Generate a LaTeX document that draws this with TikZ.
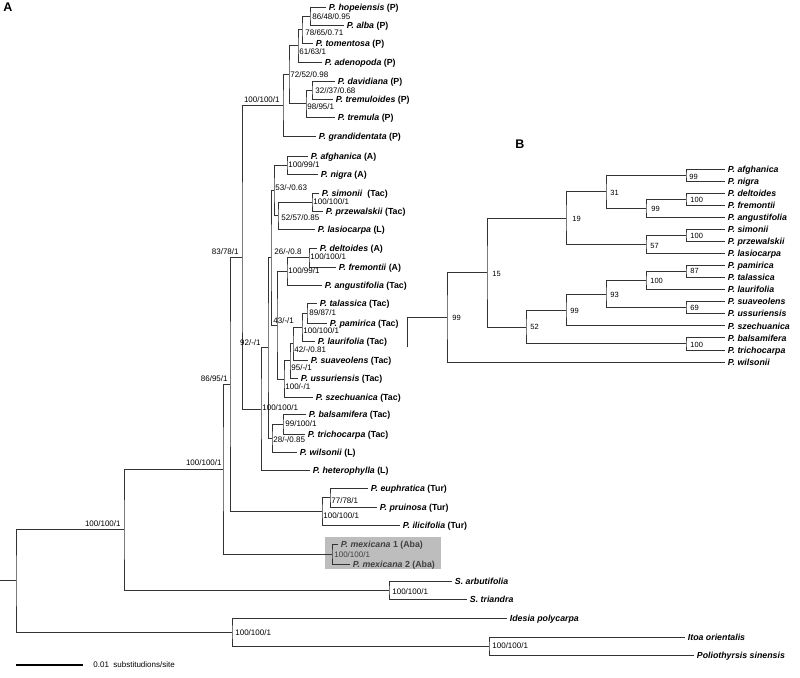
\documentclass[tikz,border=0pt]{standalone}
\usepackage{fontspec}
\setmainfont{Liberation Sans}
\usepackage{tikz}

\begin{document}
\begin{tikzpicture}[x=1pt, y=-1pt, line width=0.8pt,
  branch/.style={draw=black!80},
  taxon/.style={anchor=base west, inner xsep=2.5pt, inner ysep=0pt, yshift=-3.2pt, font=\fontsize{8.8}{10}\selectfont\bfseries},
  supp/.style={anchor=base west, inner sep=0pt, yshift=-2.9pt, font=\fontsize{8}{9}\selectfont},
  suppr/.style={supp, anchor=base east},
  bsupp/.style={anchor=base west, inner sep=0pt, yshift=-2.7pt, font=\fontsize{7.5}{9}\selectfont},
  panel/.style={anchor=base west, inner sep=0pt, font=\fontsize{12.5}{14}\selectfont\bfseries}]
\useasboundingbox (0, 0) rectangle (800, 677);

% panel A
\node[panel] (labA) at (3, 12) {A};
\fill [gray!52] (325, 537) rectangle (441, 569);

% tips of A
\coordinate (hop) at (326, 7);
\coordinate (alb) at (344, 25);
\coordinate (tom) at (313, 43);
\coordinate (ade) at (322, 62);
\coordinate (dav) at (335, 81);
\coordinate (trd) at (333, 99);
\coordinate (tre) at (335, 117);
\coordinate (gra) at (316, 136);
\coordinate (afg) at (308, 156);
\coordinate (nig) at (318, 174);
\coordinate (sim) at (319, 193);
\coordinate (prz) at (323, 211);
\coordinate (las) at (315, 229);
\coordinate (del) at (317, 248);
\coordinate (fre) at (336, 267);
\coordinate (ang) at (322, 285);
\coordinate (tal) at (317, 303);
\coordinate (pam) at (327, 323);
\coordinate (lau) at (315, 341);
\coordinate (sua) at (308, 360);
\coordinate (uss) at (298, 378);
\coordinate (sze) at (313, 397);
\coordinate (bal) at (306, 414);
\coordinate (tri) at (305, 434);
\coordinate (wil) at (297, 452);
\coordinate (het) at (310, 470);
\coordinate (eup) at (368, 488);
\coordinate (pru) at (377, 507);
\coordinate (ili) at (400, 525);
\coordinate (mx1) at (338, 544);
\coordinate (mx2) at (350, 564);
\coordinate (sar) at (452, 581);
\coordinate (str) at (467, 599);
\coordinate (ide) at (507, 618);
\coordinate (ito) at (685, 637);
\coordinate (pol) at (694, 655);

% inner nodes of A
\coordinate (a1) at (310, 16);
\coordinate (a2) at (302, 29.5);
\coordinate (a3) at (298, 45.75);
\coordinate (a5) at (312, 90);
\coordinate (a6) at (306, 103.5);
\coordinate (a4) at (289, 74.6);
\coordinate (a7) at (283, 105.3);
\coordinate (n8) at (287, 165);
\coordinate (n9) at (312, 202);
\coordinate (n10) at (278, 215.5);
\coordinate (n11) at (274, 190.25);
\coordinate (n12) at (309, 257.5);
\coordinate (n13) at (287, 271.25);
\coordinate (n14) at (307, 313);
\coordinate (n15) at (302, 327);
\coordinate (n16) at (293, 343.5);
\coordinate (n17) at (290, 360.75);
\coordinate (n18) at (284, 378.9);
\coordinate (n19) at (277, 325.1);
\coordinate (n20) at (271, 257.7);
\coordinate (n21) at (283, 424);
\coordinate (n22) at (272, 438);
\coordinate (n23) at (268, 347.85);
\coordinate (n24) at (261, 408.9);
\coordinate (n25) at (242, 257.1);
\coordinate (t1) at (330, 497.5);
\coordinate (t2) at (322, 511.25);
\coordinate (n26) at (230, 384.2);
\coordinate (m1) at (332, 554);
\coordinate (n27) at (223, 469.1);
\coordinate (s1) at (389, 590);
\coordinate (n28) at (124, 529.55);
\coordinate (o1) at (489, 646);
\coordinate (o2) at (232, 632);
\coordinate (root) at (16, 580.8);
\coordinate (r0) at (0, 580.8);

% branches of A
\draw [branch] (hop) -| (a1) |- (alb);
\draw [branch] (a1) -| (a2) |- (tom);
\draw [branch] (a2) -| (a3) |- (ade);
\draw [branch] (dav) -| (a5) |- (trd);
\draw [branch] (a5) -| (a6) |- (tre);
\draw [branch] (a3) -| (a4) |- (a6);
\draw [branch] (a4) -| (a7) |- (gra);
\draw [branch] (afg) -| (n8) |- (nig);
\draw [branch] (sim) -| (n9) |- (prz);
\draw [branch] (n9) -| (n10) |- (las);
\draw [branch] (n8) -| (n11) |- (n10);
\draw [branch] (del) -| (n12) |- (fre);
\draw [branch] (n12) -| (n13) |- (ang);
\draw [branch] (tal) -| (n14) |- (pam);
\draw [branch] (n14) -| (n15) |- (lau);
\draw [branch] (n15) -| (n16) |- (sua);
\draw [branch] (n16) -| (n17) |- (uss);
\draw [branch] (n17) -| (n18) |- (sze);
\draw [branch] (n13) -| (n19) |- (n18);
\draw [branch] (n11) -| (n20) |- (n19);
\draw [branch] (bal) -| (n21) |- (tri);
\draw [branch] (n21) -| (n22) |- (wil);
\draw [branch] (n20) -| (n23) |- (n22);
\draw [branch] (n23) -| (n24) |- (het);
\draw [branch] (a7) -| (n25) |- (n24);
\draw [branch] (eup) -| (t1) |- (pru);
\draw [branch] (t1) -| (t2) |- (ili);
\draw [branch] (n25) -| (n26) |- (t2);
\draw [branch] (mx1) -| (m1) |- (mx2);
\draw [branch] (n26) -| (n27) |- (m1);
\draw [branch] (sar) -| (s1) |- (str);
\draw [branch] (n27) -| (n28) |- (s1);
\draw [branch] (ito) -| (o1) |- (pol);
\draw [branch] (ide) -| (o2) |- (o1);
\draw [branch] (n28) -| (root) |- (o2);
\draw [branch] (r0) -- (root);

% taxa of A
\node[taxon] (t-hop) at (hop) {\textit{P. hopeiensis} (P)};
\node[taxon] (t-alb) at (alb) {\textit{P. alba} (P)};
\node[taxon] (t-tom) at (tom) {\textit{P. tomentosa} (P)};
\node[taxon] (t-ade) at (ade) {\textit{P. adenopoda} (P)};
\node[taxon] (t-dav) at (dav) {\textit{P. davidiana} (P)};
\node[taxon] (t-trd) at (trd) {\textit{P. tremuloides} (P)};
\node[taxon] (t-tre) at (tre) {\textit{P. tremula} (P)};
\node[taxon] (t-gra) at (gra) {\textit{P. grandidentata} (P)};
\node[taxon] (t-afg) at (afg) {\textit{P. afghanica} (A)};
\node[taxon] (t-nig) at (nig) {\textit{P. nigra} (A)};
\node[taxon] (t-sim) at (sim) {\textit{P. simonii}\ \ (Tac)};
\node[taxon] (t-prz) at (prz) {\textit{P. przewalskii} (Tac)};
\node[taxon] (t-las) at (las) {\textit{P. lasiocarpa} (L)};
\node[taxon] (t-del) at (del) {\textit{P. deltoides} (A)};
\node[taxon] (t-fre) at (fre) {\textit{P. fremontii} (A)};
\node[taxon] (t-ang) at (ang) {\textit{P. angustifolia} (Tac)};
\node[taxon] (t-tal) at (tal) {\textit{P. talassica} (Tac)};
\node[taxon] (t-pam) at (pam) {\textit{P. pamirica} (Tac)};
\node[taxon] (t-lau) at (lau) {\textit{P. laurifolia} (Tac)};
\node[taxon] (t-sua) at (sua) {\textit{P. suaveolens} (Tac)};
\node[taxon] (t-uss) at (uss) {\textit{P. ussuriensis} (Tac)};
\node[taxon] (t-sze) at (sze) {\textit{P. szechuanica} (Tac)};
\node[taxon] (t-bal) at (bal) {\textit{P. balsamifera} (Tac)};
\node[taxon] (t-tri) at (tri) {\textit{P. trichocarpa} (Tac)};
\node[taxon] (t-wil) at (wil) {\textit{P. wilsonii} (L)};
\node[taxon] (t-het) at (het) {\textit{P. heterophylla} (L)};
\node[taxon] (t-eup) at (eup) {\textit{P. euphratica} (Tur)};
\node[taxon] (t-pru) at (pru) {\textit{P. pruinosa} (Tur)};
\node[taxon] (t-ili) at (ili) {\textit{P. ilicifolia} (Tur)};
\node[taxon, text=black!75] (t-mx1) at (mx1) {\textit{P. mexicana} 1 (Aba)};
\node[taxon, text=black!75] (t-mx2) at (mx2) {\textit{P. mexicana} 2 (Aba)};
\node[taxon] (t-sar) at (sar) {\textit{S. arbutifolia}};
\node[taxon] (t-str) at (str) {\textit{S. triandra}};
\node[taxon] (t-ide) at (ide) {\textit{Idesia polycarpa}};
\node[taxon] (t-ito) at (ito) {\textit{Itoa orientalis}};
\node[taxon] (t-pol) at (pol) {\textit{Poliothyrsis sinensis}};

% support values of A
\node[supp] (l-a1) at (312, 17) {86/48/0.95};
\node[supp] (l-a2) at (305, 33) {78/65/0.71};
\node[supp] (l-a3) at (299, 52) {61/63/1};
\node[supp] (l-a4) at (290, 75) {72/52/0.98};
\node[supp] (l-a5) at (315, 91) {32//37/0.68};
\node[supp] (l-a6) at (307, 107) {98/95/1};
\node[suppr] (l-a7) at (280, 100) {100/100/1};
\node[supp] (l-n8) at (288, 165) {100/99/1};
\node[supp] (l-n11) at (275, 188) {53/-/0.63};
\node[supp] (l-n9) at (313, 202) {100/100/1};
\node[supp] (l-n10) at (281, 218) {52/57/0.85};
\node[supp] (l-n20) at (274, 252) {26/-/0.8};
\node[supp] (l-n12) at (310, 257) {100/100/1};
\node[supp] (l-n13) at (288, 271) {100/99/1};
\node[supp] (l-n14) at (309, 313) {89/87/1};
\node[supp] (l-n19) at (273, 321) {43/-/1};
\node[supp] (l-n15) at (303, 331) {100/100/1};
\node[supp] (l-n16) at (294, 350) {42/-/0.81};
\node[supp] (l-n17) at (291, 368) {95/-/1};
\node[supp] (l-n18) at (285, 387) {100/-/1};
\node[suppr] (l-n23) at (261, 343) {92/-/1};
\node[supp] (l-n24) at (262, 408) {100/100/1};
\node[supp] (l-n21) at (285, 424) {99/100/1};
\node[supp] (l-n22) at (273, 440) {28/-/0.85};
\node[suppr] (l-n25) at (239, 252) {83/78/1};
\node[suppr] (l-n26) at (228, 379) {86/95/1};
\node[supp] (l-t1) at (331, 501) {77/78/1};
\node[supp] (l-t2) at (323, 516) {100/100/1};
\node[supp, text=black!75] (l-m1) at (334, 555) {100/100/1};
\node[suppr] (l-n27) at (222, 463) {100/100/1};
\node[supp] (l-s1) at (392, 592) {100/100/1};
\node[suppr] (l-n28) at (121, 524) {100/100/1};
\node[supp] (l-o2) at (235, 633) {100/100/1};
\node[supp] (l-o1) at (492, 646) {100/100/1};

% scale bar
\coordinate (sb0) at (16, 665);
\coordinate (sb1) at (83, 665);
\draw [line width=1.3pt] (sb0) -- (sb1);
\node[supp] (sbl) at (93, 665) {0.01\ \ substitudions/site};

% panel B
\node[panel] (labB) at (515, 148) {B};

% tips of B
\coordinate (bafg) at (725, 169);
\coordinate (bnig) at (725, 181.1);
\coordinate (bdel) at (725, 193.1);
\coordinate (bfre) at (725, 205.2);
\coordinate (bang) at (725, 217.2);
\coordinate (bsim) at (725, 229.3);
\coordinate (bprz) at (725, 241.4);
\coordinate (blas) at (725, 253.4);
\coordinate (bpam) at (725, 265.5);
\coordinate (btal) at (725, 277.5);
\coordinate (blau) at (725, 289.6);
\coordinate (bsua) at (725, 301.7);
\coordinate (buss) at (725, 313.7);
\coordinate (bsze) at (725, 325.8);
\coordinate (bbal) at (725, 337.8);
\coordinate (btri) at (725, 349.9);
\coordinate (bwil) at (725, 362);

% inner nodes of B
\coordinate (b1) at (686, 175.05);
\coordinate (b2) at (686, 199.15);
\coordinate (b3) at (646, 208.2);
\coordinate (b4) at (606, 191.6);
\coordinate (b5) at (686, 235.35);
\coordinate (b6) at (646, 244.4);
\coordinate (b7) at (566, 218);
\coordinate (b8) at (686, 271.5);
\coordinate (b9) at (646, 280.55);
\coordinate (b10) at (686, 307.7);
\coordinate (b11) at (606, 294.1);
\coordinate (b12) at (566, 309.95);
\coordinate (b13) at (686, 343.85);
\coordinate (b14) at (526, 326.9);
\coordinate (b15) at (487, 272.45);
\coordinate (b16) at (447, 317.2);
\coordinate (bst) at (407, 347);

% branches of B
\draw [branch] (bafg) -| (b1) |- (bnig);
\draw [branch] (bdel) -| (b2) |- (bfre);
\draw [branch] (b2) -| (b3) |- (bang);
\draw [branch] (b1) -| (b4) |- (b3);
\draw [branch] (bsim) -| (b5) |- (bprz);
\draw [branch] (b5) -| (b6) |- (blas);
\draw [branch] (b4) -| (b7) |- (b6);
\draw [branch] (bpam) -| (b8) |- (btal);
\draw [branch] (b8) -| (b9) |- (blau);
\draw [branch] (bsua) -| (b10) |- (buss);
\draw [branch] (b9) -| (b11) |- (b10);
\draw [branch] (b11) -| (b12) |- (bsze);
\draw [branch] (bbal) -| (b13) |- (btri);
\draw [branch] (b12) -| (b14) |- (b13);
\draw [branch] (b7) -| (b15) |- (b14);
\draw [branch] (b15) -| (b16) |- (bwil);
\draw [branch] (bst) |- (b16);

% taxa of B
\node[taxon] (u-afg) at (bafg) {\textit{P. afghanica}};
\node[taxon] (u-nig) at (bnig) {\textit{P. nigra}};
\node[taxon] (u-del) at (bdel) {\textit{P. deltoides}};
\node[taxon] (u-fre) at (bfre) {\textit{P. fremontii}};
\node[taxon] (u-ang) at (bang) {\textit{P. angustifolia}};
\node[taxon] (u-sim) at (bsim) {\textit{P. simonii}};
\node[taxon] (u-prz) at (bprz) {\textit{P. przewalskii}};
\node[taxon] (u-las) at (blas) {\textit{P. lasiocarpa}};
\node[taxon] (u-pam) at (bpam) {\textit{P. pamirica}};
\node[taxon] (u-tal) at (btal) {\textit{P. talassica}};
\node[taxon] (u-lau) at (blau) {\textit{P. laurifolia}};
\node[taxon] (u-sua) at (bsua) {\textit{P. suaveolens}};
\node[taxon] (u-uss) at (buss) {\textit{P. ussuriensis}};
\node[taxon] (u-sze) at (bsze) {\textit{P. szechuanica}};
\node[taxon] (u-bal) at (bbal) {\textit{P. balsamifera}};
\node[taxon] (u-tri) at (btri) {\textit{P. trichocarpa}};
\node[taxon] (u-wil) at (bwil) {\textit{P. wilsonii}};

% bootstrap values of B
\node[bsupp] (k-b1) at (689, 177) {99};
\node[bsupp] (k-b2) at (690, 200) {100};
\node[bsupp] (k-b3) at (651, 209) {99};
\node[bsupp] (k-b4) at (610, 193) {31};
\node[bsupp] (k-b5) at (690, 236) {100};
\node[bsupp] (k-b6) at (650, 246) {57};
\node[bsupp] (k-b7) at (572, 219) {19};
\node[bsupp] (k-b8) at (690, 271) {87};
\node[bsupp] (k-b9) at (650, 281) {100};
\node[bsupp] (k-b10) at (690, 308) {69};
\node[bsupp] (k-b11) at (610, 295) {93};
\node[bsupp] (k-b12) at (570, 311) {99};
\node[bsupp] (k-b13) at (690, 345) {100};
\node[bsupp] (k-b14) at (530, 327) {52};
\node[bsupp] (k-b15) at (492, 274) {15};
\node[bsupp] (k-b16) at (452, 318) {99};
\end{tikzpicture}
\end{document}
